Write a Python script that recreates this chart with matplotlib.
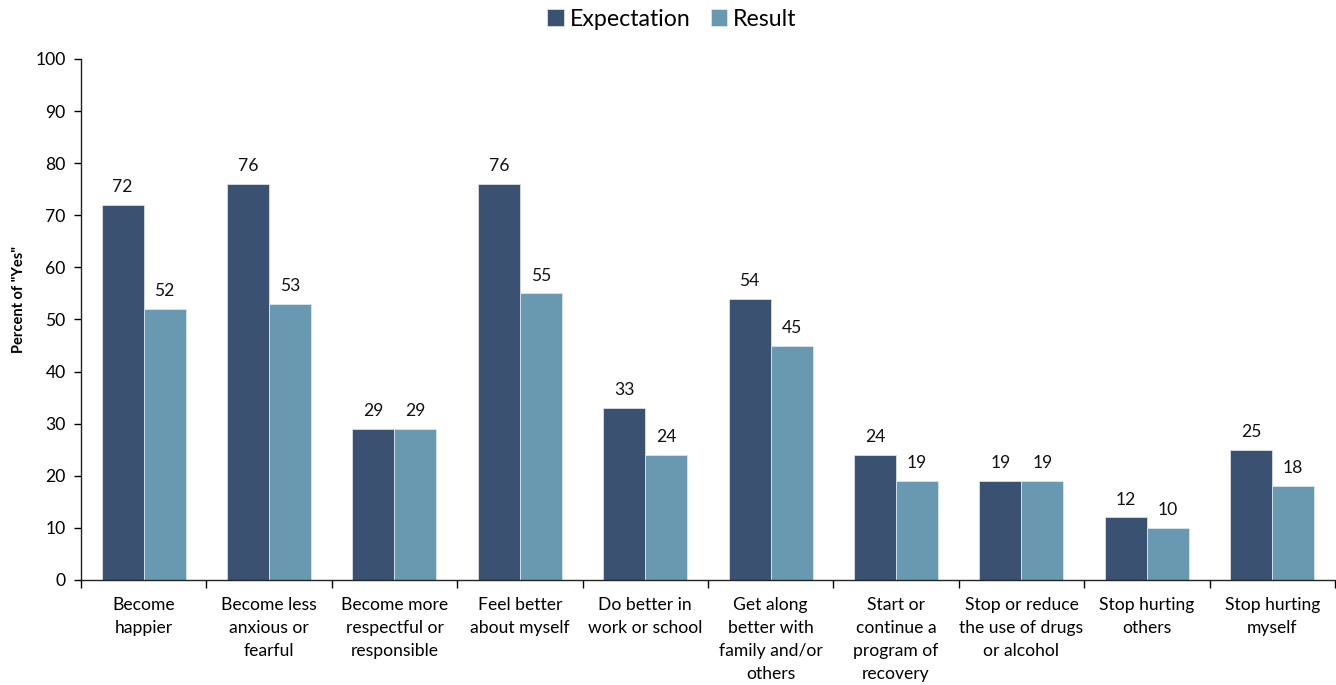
import matplotlib
matplotlib.use("Agg")
import matplotlib.pyplot as plt
import numpy as np

categories = [
    "Become\nhappier",
    "Become less\nanxious or\nfearful",
    "Become more\nrespectful or\nresponsible",
    "Feel better\nabout myself",
    "Do better in\nwork or school",
    "Get along\nbetter with\nfamily and/or\nothers",
    "Start or\ncontinue a\nprogram of\nrecovery",
    "Stop or reduce\nthe use of drugs\nor alcohol",
    "Stop hurting\nothers",
    "Stop hurting\nmyself",
]
expectation = [72, 76, 29, 76, 33, 54, 24, 19, 12, 25]
result = [52, 53, 29, 55, 24, 45, 19, 19, 10, 18]
y_ticks = list(range(0, 101, 10))

dark = "#3A5171"
light = "#6899B0"

plt.rcParams["font.family"] = ["Lato", "DejaVu Sans"]

fig = plt.figure(figsize=(13.36, 6.85), dpi=100)
ax = fig.add_axes([0.0606, 0.1533, 0.9386, 0.7606])

x = np.arange(len(categories))
w = 0.335
b1 = ax.bar(x - w / 2, expectation, w, color=dark, edgecolor="#D9DEE6", linewidth=0.6, label="Expectation")
b2 = ax.bar(x + w / 2, result, w, color=light, edgecolor="#D9E6EC", linewidth=0.6, label="Result")

for bars, vals in ((b1, expectation), (b2, result)):
    for rect, v in zip(bars, vals):
        ax.annotate(f"{v:.0f}", (rect.get_x() + rect.get_width() / 2, v),
                    xytext=(0, 7), textcoords="offset points",
                    ha="center", va="bottom", fontsize=12.6, color="#111111")

ax.set_xlim(-0.5, len(categories) - 0.5)
ax.set_ylim(0, 100)
ax.set_yticks(y_ticks)
ax.tick_params(axis="y", labelsize=12.6, length=5, width=1, direction="out", pad=6)

ax.set_xticks(x)
ax.set_xticklabels(categories, fontsize=12.6, linespacing=1.55, va="top")
ax.tick_params(axis="x", length=0, pad=12)
ax.set_xticks(np.arange(-0.5, len(categories)), minor=True)
ax.tick_params(axis="x", which="minor", length=6, width=1, direction="out")

for s in ("top", "right"):
    ax.spines[s].set_visible(False)
for s in ("left", "bottom"):
    ax.spines[s].set_linewidth(1)
    ax.spines[s].set_color("#222222")

ax.set_ylabel('Percent of "Yes"', fontsize=10.5, fontweight="bold")
ax.yaxis.set_label_coords(-0.0439, 0.539)

fig.legend(handles=[b1, b2], loc="center", bbox_to_anchor=(0.503, 0.972),
           ncol=2, frameon=False, fontsize=16.7, handlelength=0.7, handleheight=0.7,
           columnspacing=0.9, handletextpad=0.25, borderpad=0)

fig.savefig("out.png", dpi=100)
